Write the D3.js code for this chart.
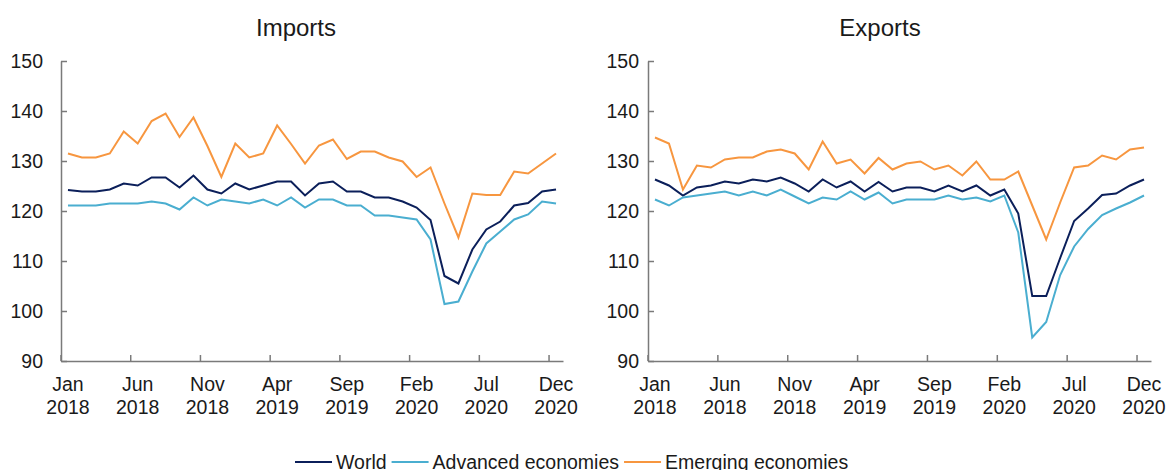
<!DOCTYPE html>
<html>
<head>
<meta charset="utf-8">
<script src="https://cdn.jsdelivr.net/npm/d3@7"></script>
<style>
  body { margin: 0; background: #fff; }
  svg { font-family: "Liberation Sans", Arial, sans-serif; }
</style>
</head>
<body>
<svg id="chart" width="1168" height="470"></svg>
<script>
// monthly index values, Jan 2018 .. Dec 2020
var months = d3.utcMonths(new Date(Date.UTC(2018, 0, 1)), new Date(Date.UTC(2021, 0, 1)));
var tickMonths = [0, 5, 10, 15, 20, 25, 30, 35];
var tickLabels = [["Jan", "2018"], ["Jun", "2018"], ["Nov", "2018"], ["Apr", "2019"],
    ["Sep", "2019"], ["Feb", "2020"], ["Jul", "2020"], ["Dec", "2020"]];
var yTicks = [90, 100, 110, 120, 130, 140, 150];

var series = ["World", "Advanced economies", "Emerging economies"];
var colors = ["#0b1f5a", "#4aaed0", "#f7963f"];

var importsWorld = [124.2, 123.9, 123.9, 124.3, 125.5, 125.1, 126.7, 126.7, 124.7, 127.1, 124.3, 123.5,
    125.5, 124.3, 125.1, 125.9, 125.9, 123.1, 125.5, 125.9, 123.9, 123.9, 122.7, 122.7,
    121.9, 120.7, 118.2, 107.0, 105.5, 112.3, 116.3, 117.9, 121.1, 121.6, 123.9, 124.3];
var importsAdvanced = [121.1, 121.1, 121.1, 121.5, 121.5, 121.5, 121.9, 121.5, 120.3, 122.7, 121.1, 122.3,
    121.9, 121.5, 122.3, 121.1, 122.7, 120.7, 122.3, 122.3, 121.1, 121.1, 119.1, 119.1,
    118.7, 118.3, 114.3, 101.4, 101.9, 107.9, 113.5, 115.9, 118.3, 119.3, 121.9, 121.5];
var importsEmerging = [131.5, 130.7, 130.7, 131.5, 135.9, 133.5, 138.0, 139.5, 134.8, 138.7, 133.0, 126.8,
    133.5, 130.7, 131.5, 137.1, 133.4, 129.5, 133.1, 134.3, 130.4, 131.9, 131.9, 130.7,
    129.9, 126.8, 128.7, 121.5, 114.7, 123.5, 123.2, 123.2, 127.9, 127.5, 129.5, 131.5];

var exportsWorld = [126.3, 125.1, 123.1, 124.7, 125.1, 125.9, 125.5, 126.3, 125.9, 126.7, 125.5, 123.9,
    126.3, 124.7, 125.9, 123.9, 125.8, 123.9, 124.7, 124.7, 123.9, 125.1, 123.9, 125.1,
    123.1, 124.3, 119.5, 103.0, 103.0, 110.6, 118.0, 120.5, 123.2, 123.5, 125.1, 126.3];
var exportsAdvanced = [122.3, 121.1, 122.7, 123.1, 123.5, 123.9, 123.1, 123.9, 123.1, 124.3, 122.9, 121.5,
    122.7, 122.3, 123.9, 122.3, 123.7, 121.5, 122.3, 122.3, 122.3, 123.1, 122.3, 122.7,
    121.9, 123.1, 115.7, 94.7, 97.8, 107.2, 112.9, 116.4, 119.2, 120.5, 121.7, 123.1];
var exportsEmerging = [134.7, 133.5, 124.3, 129.1, 128.7, 130.3, 130.7, 130.7, 131.9, 132.3, 131.5, 128.3,
    133.9, 129.5, 130.3, 127.5, 130.6, 128.3, 129.5, 129.9, 128.3, 129.1, 127.1, 129.9,
    126.3, 126.3, 127.9, 121.1, 114.3, 121.7, 128.7, 129.1, 131.1, 130.3, 132.3, 132.7];

var svg = d3.select("#chart");
var axisColor = "#7a7a7a";
var textColor = "#1a1a1a";
var fontSize = 19.5;

var panels = [
    { title: "Imports", left: 61, right: 563, titleX: 296, pad: 18, data: [importsWorld, importsAdvanced, importsEmerging] },
    { title: "Exports", left: 648, right: 1151, titleX: 880, pad: 9, data: [exportsWorld, exportsAdvanced, exportsEmerging] }
];
var plotTop = 61, plotBottom = 361;

var y = d3.scaleLinear().domain([90, 150]).range([plotBottom, plotTop]);

panels.forEach(function (p) {
    var x = d3.scaleBand().domain(months).range([p.left, p.right]).padding(0);
    var bw = x.bandwidth();

    svg.append("text")
        .attr("x", p.titleX)
        .attr("y", 36)
        .attr("text-anchor", "middle")
        .style("font-size", "24px")
        .style("fill", textColor)
        .text(p.title);

    // y axis
    var gy = svg.append("g")
        .attr("transform", "translate(" + p.left + ",0)")
        .call(d3.axisLeft(y).tickValues(yTicks).tickSizeInner(-6).tickSizeOuter(0).tickPadding(p.pad));
    gy.select(".domain").attr("stroke", axisColor).attr("stroke-width", 1.5);
    gy.selectAll(".tick line").attr("stroke", axisColor).attr("stroke-width", 1.5);
    gy.selectAll(".tick text").style("font-size", fontSize + "px").style("fill", textColor)
        .style("font-family", "'Liberation Sans', Arial, sans-serif");

    // x axis: ticks at month boundaries, labels centred on the month
    var gx = svg.append("g")
        .attr("transform", "translate(0," + plotBottom + ")")
        .call(d3.axisBottom(x).tickValues(tickMonths.map(function (i) { return months[i]; }))
            .tickSizeInner(-6).tickSizeOuter(0).tickFormat(""));
    gx.select(".domain").attr("stroke", axisColor).attr("stroke-width", 1.5);
    gx.selectAll(".tick line").attr("stroke", axisColor).attr("stroke-width", 1.5)
        .attr("x1", -bw / 2).attr("x2", -bw / 2);
    gx.selectAll(".tick text").remove();
    gx.selectAll(".tick").each(function (d, i) {
        var t = d3.select(this).append("text")
            .attr("text-anchor", "middle")
            .style("font-size", fontSize + "px")
            .style("fill", textColor)
            .style("font-family", "'Liberation Sans', Arial, sans-serif");
        t.append("tspan").attr("x", 0).attr("y", 30).text(tickLabels[i][0]);
        t.append("tspan").attr("x", 0).attr("y", 53).text(tickLabels[i][1]);
    });

    var line = d3.line()
        .x(function (d, i) { return x(months[i]) + bw / 2; })
        .y(function (d) { return y(d); });

    p.data.forEach(function (vals, k) {
        svg.append("path")
            .datum(vals)
            .attr("d", line)
            .attr("fill", "none")
            .attr("stroke", colors[k])
            .attr("stroke-width", 2)
            .attr("stroke-linejoin", "miter");
    });
});

// legend
var lx = 295, ly = 462;
series.forEach(function (s, k) {
    svg.append("line")
        .attr("x1", lx).attr("x2", lx + 37)
        .attr("y1", ly).attr("y2", ly)
        .attr("stroke", colors[k]).attr("stroke-width", 2);
    var t = svg.append("text")
        .attr("x", lx + 41)
        .attr("y", ly + 7)
        .style("font-size", fontSize + "px")
        .style("fill", textColor)
        .text(s);
    lx = lx + 41 + t.node().getComputedTextLength() + 5;
});
</script>
</body>
</html>
